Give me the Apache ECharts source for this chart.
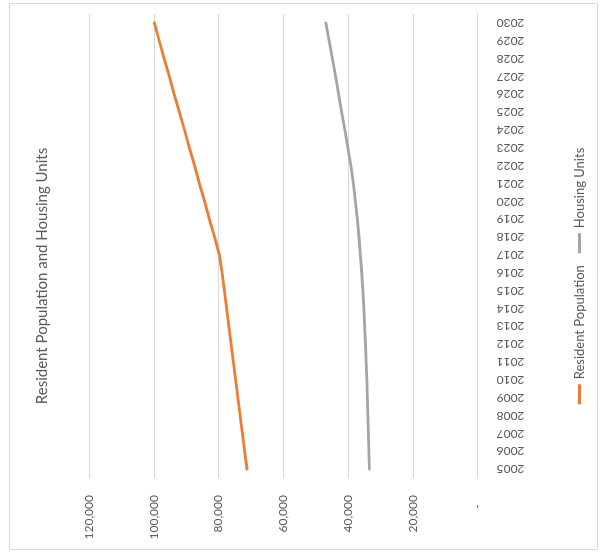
<!DOCTYPE html>
<html>
<head>
<meta charset="utf-8">
<script src="https://cdn.jsdelivr.net/npm/echarts@6/dist/echarts.min.js"></script>
<style>
  html, body { margin: 0; padding: 0; background: #ffffff; overflow: hidden; }
  #wrap { position: absolute; left: 0; top: 0; width: 600px; height: 552px; overflow: hidden; }
  /* the chart is laid out upright (552 x 600) and turned a quarter turn counter-clockwise */
  #chart {
    position: absolute; left: 0; top: 0;
    width: 552px; height: 600px;
    transform-origin: 0 0;
    transform: translateY(552px) rotate(-90deg);
  }
</style>
</head>
<body>
<div id="wrap"><div id="chart"></div></div>
<script>
// Years on the category axis
var years = ['2005','2006','2007','2008','2009','2010','2011','2012','2013','2014','2015','2016','2017',
             '2018','2019','2020','2021','2022','2023','2024','2025','2026','2027','2028','2029','2030'];

// Resident population per year
var residentPopulation = [71200, 71900, 72600, 73300, 74000, 74700, 75400, 76100, 76800, 77500, 78200, 78900, 79700,
                          81200, 82800, 84300, 85900, 87400, 89000, 90500, 92100, 93700, 95200, 96800, 98300, 99800];

// Housing units per year
var housingUnits = [33400, 33550, 33700, 33850, 34000, 34200, 34400, 34600, 34850, 35100, 35400, 35750, 36150,
                    36600, 37100, 37700, 38350, 39100, 40050, 41000, 41950, 42900, 43850, 44850, 45800, 46800];

// Value axis range
var valueMin = 0;
var valueMax = 120000;
var valueStep = 20000;

var seriesNames = ['Resident Population', 'Housing Units'];
var chartTitle = 'Resident Population and Housing Units';

var textColor = '#595959';
var gridColor = '#d9d9d9';
var font = 'Lato, "Open Sans", sans-serif';

var chart = echarts.init(document.getElementById('chart'), null, { renderer: 'canvas', width: 552, height: 600 });

chart.setOption({
  backgroundColor: '#ffffff',
  animation: false,
  textStyle: { fontFamily: font },
  title: {
    text: chartTitle,
    left: 'center',
    top: 30,
    textStyle: { fontFamily: font, fontSize: 15, fontWeight: 'normal', color: textColor }
  },
  legend: {
    data: seriesNames,
    icon: 'rect',
    left: 'center',
    top: 568,
    itemWidth: 20,
    itemHeight: 3,
    itemGap: 12,
    textStyle: { fontFamily: font, fontSize: 13, color: textColor }
  },
  graphic: [{
    type: 'rect',
    shape: { x: 2.5, y: 9.5, width: 546, height: 588 },
    style: { fill: 'none', stroke: gridColor, lineWidth: 1 },
    silent: true
  }],
  grid: { left: 74, right: 14, top: 89, height: 388.5, containLabel: false },
  xAxis: {
    type: 'category',
    data: years,
    boundaryGap: true,
    axisLine: { show: true, lineStyle: { color: gridColor, width: 1 } },
    axisTick: { show: false },
    axisLabel: { interval: 0, rotate: 90, margin: 19, fontFamily: font, fontSize: 12, color: textColor }
  },
  yAxis: {
    type: 'value',
    min: valueMin,
    max: valueMax,
    interval: valueStep,
    axisLine: { show: false },
    axisTick: { show: false },
    splitLine: { show: true, lineStyle: { color: gridColor, width: 1 } },
    axisLabel: {
      margin: 17,
      fontFamily: font,
      fontSize: 12,
      color: textColor,
      formatter: function (v) {
        return v === 0 ? '-   ' : v.toLocaleString('en-US');
      }
    }
  },
  series: [
    {
      name: seriesNames[0],
      type: 'line',
      data: residentPopulation,
      symbol: 'none',
      color: '#ED7D31',
      lineStyle: { color: '#ED7D31', width: 2.8, cap: 'round', join: 'round' }
    },
    {
      name: seriesNames[1],
      type: 'line',
      data: housingUnits,
      symbol: 'none',
      color: '#A5A5A5',
      lineStyle: { color: '#A5A5A5', width: 2.8, cap: 'round', join: 'round' }
    }
  ]
});
</script>
</body>
</html>
